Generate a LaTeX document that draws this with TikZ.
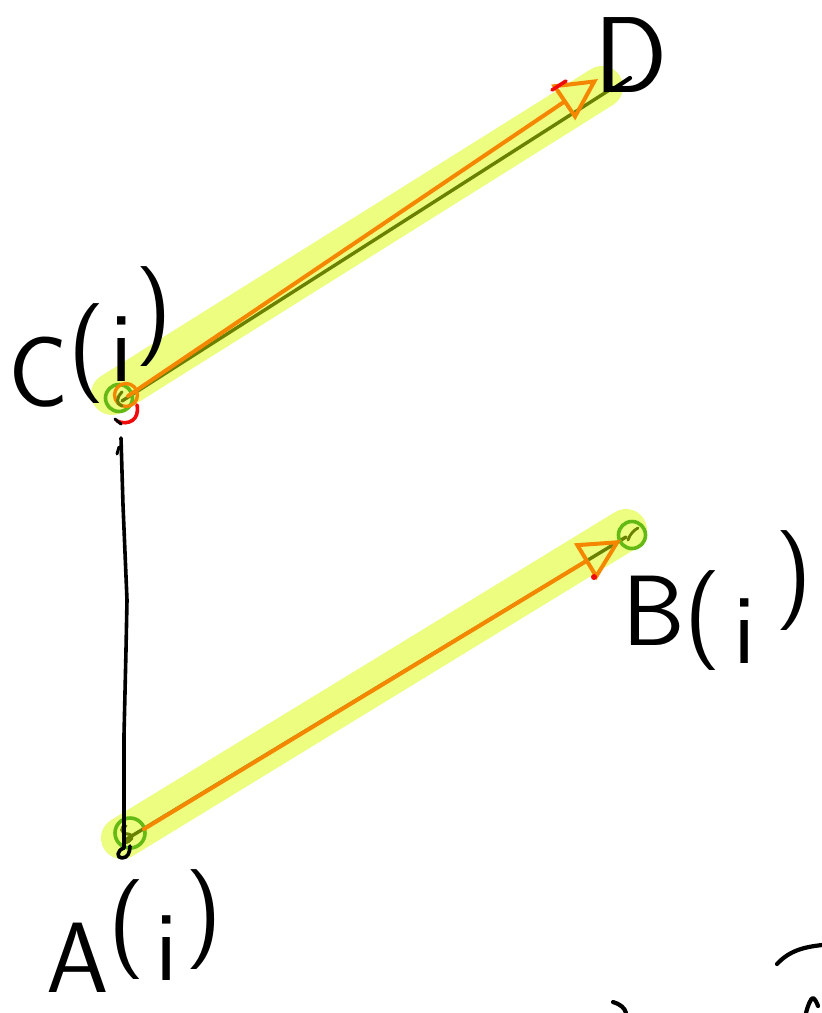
\documentclass[tikz,border=0pt]{standalone}
\usetikzlibrary{arrows.meta}
\definecolor{hlyellow}{RGB}{236,253,128}
\definecolor{olivec}{RGB}{105,128,0}
\definecolor{orangec}{RGB}{245,135,0}
\definecolor{greenc}{RGB}{100,185,20}
\definecolor{redc}{RGB}{240,10,10}
\begin{document}
\begin{tikzpicture}[x=1pt,y=-1pt,
  hl/.style={draw=hlyellow,line width=42pt,line cap=round},
  oliveline/.style={draw=olivec,line width=3.4pt,line cap=round},
  orangeline/.style={draw=orangec,line width=4pt,line cap=round,line join=round},
  orangearrow/.style={orangeline,-{Triangle[open,length=42pt,width=42pt,line width=4pt]}},
  ptring/.style={circle,draw=greenc,line width=3.6pt,inner sep=0pt,minimum size=#1},
  ink/.style={draw=black,line width=4.2pt,line cap=round,line join=round},
  hand/.style={font=\sffamily\fontsize{100}{100}\selectfont,inner sep=0pt,anchor=base west}]
\useasboundingbox[fill=white] (0,0) rectangle (822,1013);
% anchor coordinates
\coordinate (Chl) at (112,394);
\coordinate (Dhl) at (602,87);
\coordinate (Ahl) at (122,838);
\coordinate (Bhl) at (626,530);
\coordinate (Col) at (122,401);
\coordinate (Dol) at (611,89);
\coordinate (Aol) at (125,840);
\coordinate (Bol) at (626,537);
\coordinate (Cor) at (128,396);
\coordinate (Dtip) at (598,79);
\coordinate (Aor) at (144,829);
\coordinate (Btip) at (621,540);
% highlights
\draw[hl] (Chl) -- (Dhl);
\draw[hl] (Ahl) -- (Bhl);
% olive lines
\draw[oliveline] (Col) -- (Dol);
\draw[oliveline] (Aol) -- (Bol);
% point rings
\node[ptring=27pt] (Cpt) at (119,398) {};
\node[draw=orangec,circle,line width=3.4pt,inner sep=0pt,minimum size=23pt] (Cor2) at (126,395) {};
\node[ptring=30pt] (Apt) at (130,833) {};
\node[ptring=27pt] (Bpt) at (632,535) {};
% small olive squiggles inside rings
\draw[olivec,line width=3pt,line cap=round] (126,826) .. controls (120,826) and (120,834) .. (128,834) .. controls (135,835) and (132,842) .. (124,843);
\draw[olivec,line width=3pt,line cap=round] (122,392) .. controls (116,398) and (116,404) .. (122,406);
\draw[olivec,line width=2.8pt,line cap=round] (628,540) .. controls (630,534) and (634,530) .. (638,528);
% orange arrows
\draw[orangearrow] (Cor) -- (Dtip);
\draw[orangearrow] (Aor) -- (Btip);
% red marks
\draw[redc,line width=3.6pt,line cap=round] (137,405) .. controls (140,420) and (128,426) .. (117,421);
\draw[redc,line width=3.6pt,line cap=round] (552,90) -- (566,81);
\fill[redc] (594,577) circle (3pt);
% vertical black connector from C down to A
\coordinate (Vtop) at (121,438);
\coordinate (Vbot) at (124,848);
\draw[ink,line width=3.6pt] (Vtop) -- (123,505) -- (127,600) -- (126,650) -- (124,735) -- (Vbot)
  .. controls (117,850) and (116,858) .. (122,858) .. controls (128,858) and (130,852) .. (130,846);
\draw[ink,line width=3pt] (117,454) -- (119,447);
\draw[ink,line width=3pt] (115,419) -- (121,424);
% small black tail of D
\draw[ink] (612,90) -- (630,78);
% labels
\node[hand] (labC) at (8,406) {C\raisebox{28pt}{(}\hspace{6pt}\raisebox{25pt}{i}\hspace{2pt}\raisebox{65pt}{)}};
\node[hand,font=\sffamily\fontsize{108}{108}\selectfont] (labD) at (594,92) {D};
\node[hand] (labB) at (622,645) {B(\hspace{12pt}\raisebox{-18pt}{i}\hspace{20pt}\raisebox{40pt}{)}};
\node[hand] (labA) at (46,992) {A\raisebox{38pt}{(}\hspace{10pt}\raisebox{12pt}{i}\hspace{8pt}\raisebox{48pt}{)}};
% stray strokes at bottom right
\draw[ink] (777,964) .. controls (790,950) and (805,947) .. (822,945);
\draw[ink] (613,1002) .. controls (620,1004) and (625,1008) .. (626,1013);
\draw[ink] (806,1013) .. controls (808,1005) and (811,998) .. (813,998) .. controls (815,999) and (817,1003) .. (818,1006);
\end{tikzpicture}
\end{document}
